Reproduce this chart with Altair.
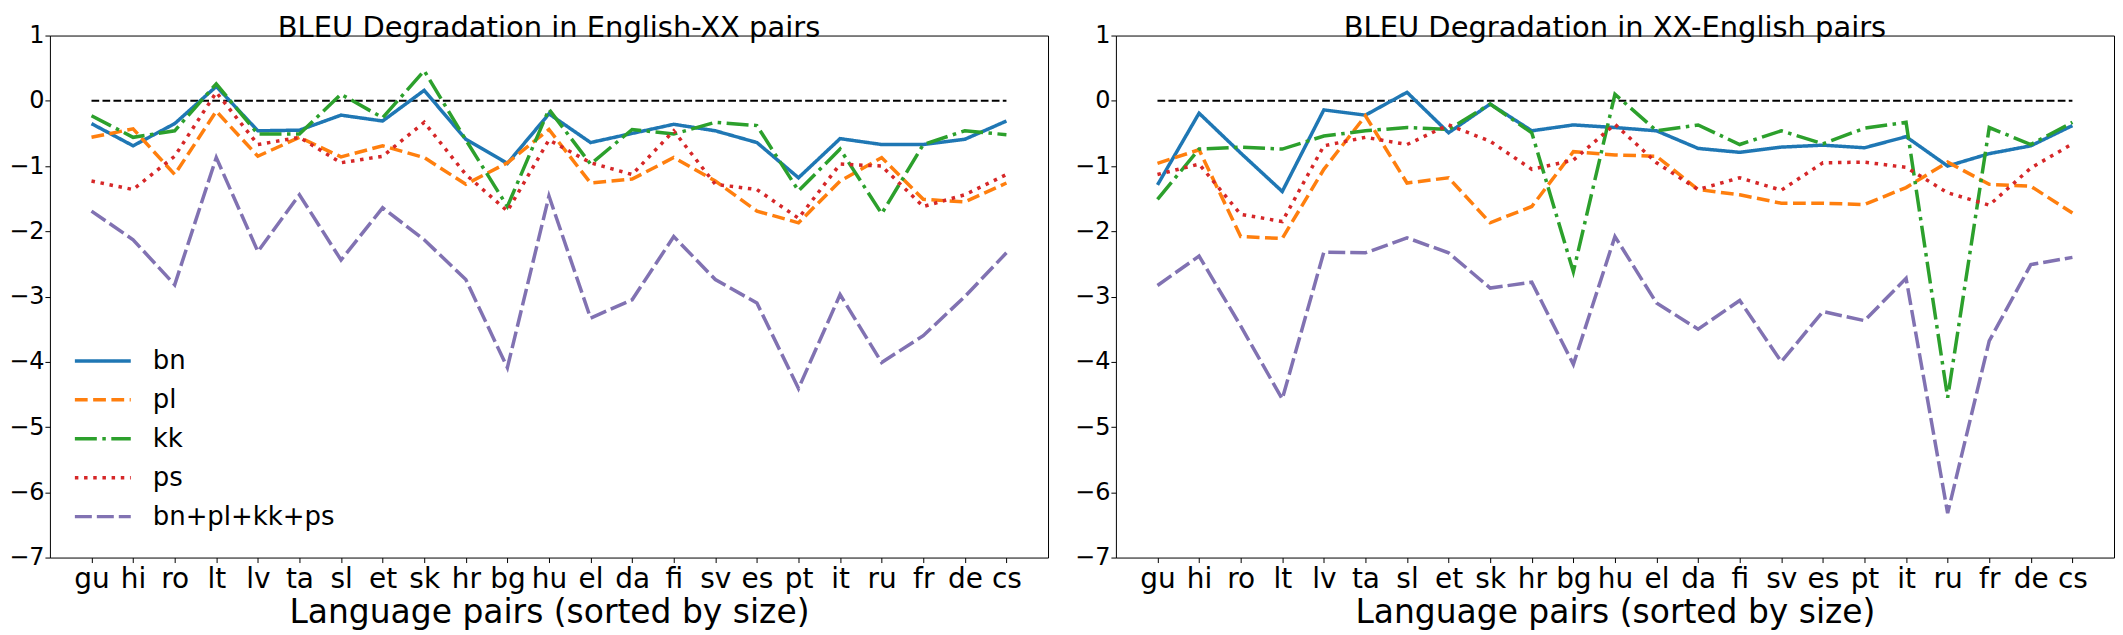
import altair as alt
import pandas as pd

langs = ["gu", "hi", "ro", "lt", "lv", "ta", "sl", "et", "sk", "hr", "bg", "hu",
         "el", "da", "fi", "sv", "es", "pt", "it", "ru", "fr", "de", "cs"]
series_names = ["bn", "pl", "kk", "ps", "bn+pl+kk+ps"]

# English-XX
en_bn = [-0.35, -0.69, -0.35, 0.22, -0.46, -0.45, -0.22, -0.31, 0.16, -0.59, -0.96, -0.2,
         -0.64, -0.5, -0.36, -0.46, -0.64, -1.18, -0.58, -0.67, -0.67, -0.59, -0.31]
en_pl = [-0.56, -0.43, -1.13, -0.16, -0.85, -0.56, -0.86, -0.69, -0.87, -1.28, -0.95, -0.44,
         -1.26, -1.2, -0.87, -1.23, -1.69, -1.87, -1.23, -0.87, -1.51, -1.55, -1.26]
en_kk = [-0.23, -0.56, -0.46, 0.26, -0.51, -0.51, 0.1, -0.26, 0.46, -0.6, -1.62, -0.13,
         -0.97, -0.44, -0.51, -0.33, -0.38, -1.38, -0.74, -1.73, -0.67, -0.46, -0.52]
en_ps = [-1.23, -1.36, -0.85, 0.13, -0.67, -0.56, -0.95, -0.85, -0.33, -1.13, -1.69, -0.6,
         -0.95, -1.13, -0.46, -1.28, -1.36, -1.8, -0.97, -1.0, -1.62, -1.44, -1.13]
en_all = [-1.69, -2.13, -2.82, -0.87, -2.31, -1.44, -2.44, -1.64, -2.13, -2.74, -4.09, -1.46,
          -3.33, -3.05, -2.08, -2.74, -3.1, -4.41, -2.97, -4.01, -3.6, -3.0, -2.33]

# XX-English
xx_bn = [-1.29, -0.19, -0.8, -1.39, -0.14, -0.22, 0.13, -0.49, -0.05, -0.46, -0.37, -0.41,
         -0.46, -0.73, -0.79, -0.71, -0.68, -0.72, -0.55, -1.0, -0.81, -0.69, -0.38]
xx_pl = [-0.96, -0.75, -2.08, -2.11, -1.05, -0.23, -1.26, -1.18, -1.87, -1.62, -0.78, -0.83,
         -0.85, -1.36, -1.44, -1.57, -1.57, -1.59, -1.33, -0.94, -1.28, -1.31, -1.72]
xx_kk = [-1.51, -0.74, -0.71, -0.74, -0.54, -0.46, -0.41, -0.44, -0.05, -0.49, -2.62, 0.1,
         -0.46, -0.37, -0.67, -0.46, -0.66, -0.42, -0.33, -4.55, -0.41, -0.67, -0.33]
xx_ps = [-1.13, -0.97, -1.74, -1.85, -0.69, -0.56, -0.67, -0.37, -0.62, -1.05, -0.91, -0.36,
         -0.95, -1.36, -1.18, -1.37, -0.95, -0.94, -1.02, -1.41, -1.6, -1.03, -0.66]
xx_all = [-2.83, -2.38, -3.45, -4.57, -2.32, -2.33, -2.1, -2.33, -2.87, -2.78, -4.04, -2.08,
          -3.1, -3.5, -3.06, -4.0, -3.23, -3.37, -2.72, -6.32, -3.68, -2.51, -2.4]

colors = ["#1f77b4", "#ff7f0e", "#2ca02c", "#d62728", "#8172b2"]
dashes = [[1, 0], [12.8, 5.5], [22, 5.5, 3.5, 5.5], [3.5, 5.7], [17, 5]]

FONT = "DejaVu Sans"


def make_df(series_lists):
    rows = []
    for name, vals in zip(series_names, series_lists):
        for lang, v in zip(langs, vals):
            rows.append({"lang": lang, "series": name, "value": v})
    return pd.DataFrame(rows)


def panel(df, title, show_legend):
    x = alt.X("lang:N", sort=langs,
              scale=alt.Scale(type="point", padding=1.1, domain=langs),
              axis=alt.Axis(title="Language pairs (sorted by size)", labelAngle=0,
                            labelFontSize=28, titleFontSize=33, labelOverlap=False,
                            tickSize=5, labelPadding=3, titlePadding=3, domain=False,
                            grid=False, tickColor="black", labelColor="black",
                            titleColor="black", titleFontWeight="normal",
                            labelFont=FONT, titleFont=FONT))
    y = alt.Y("value:Q", scale=alt.Scale(domain=[-7, 1], nice=False, zero=False),
              axis=alt.Axis(title=None, values=list(range(-7, 2)), format="d",
                            labelFontSize=24, tickSize=5, labelPadding=1, domain=False,
                            grid=False, tickColor="black", labelColor="black",
                            labelFont=FONT))
    if show_legend:
        leg = alt.Legend(title=None, orient="none", legendX=23, legendY=311,
                         symbolType="stroke", symbolSize=3136, symbolStrokeWidth=3.5,
                         clipHeight=30, rowPadding=9, labelFontSize=26, labelLimit=500,
                         labelOffset=20, labelColor="black", labelFont=FONT, padding=0)
    else:
        leg = None
    zero_df = pd.DataFrame({"lang": [langs[0], langs[-1]], "value": [0, 0]})
    zero = alt.Chart(zero_df).mark_line(color="black", strokeDash=[7.7, 3.3],
                                        strokeWidth=2).encode(x=x, y=y)
    lines = alt.Chart(df).mark_line(strokeWidth=3.5).encode(
        x=x, y=y,
        color=alt.Color("series:N", sort=series_names,
                        scale=alt.Scale(domain=series_names, range=colors), legend=leg),
        strokeDash=alt.StrokeDash("series:N", sort=series_names,
                                  scale=alt.Scale(domain=series_names, range=dashes),
                                  legend=leg),
    )
    return alt.layer(zero, lines).properties(
        width=1000, height=523,
        title=alt.TitleParams(title, fontSize=29, font=FONT, fontWeight="normal",
                              color="black", offset=-19),
    )


left = panel(make_df([en_bn, en_pl, en_kk, en_ps, en_all]),
             "BLEU Degradation in English-XX pairs", True)
right = panel(make_df([xx_bn, xx_pl, xx_kk, xx_ps, xx_all]),
              "BLEU Degradation in XX-English pairs", False)

chart = alt.hconcat(
    left, right, spacing=68, bounds="flush",
    padding={"top": 4, "left": 0, "right": 0, "bottom": 0},
).resolve_legend(
    color="independent", strokeDash="independent"
).configure_view(stroke="black", strokeWidth=1)

chart.save("out.html", embed_options={"renderer": "svg", "actions": False})
